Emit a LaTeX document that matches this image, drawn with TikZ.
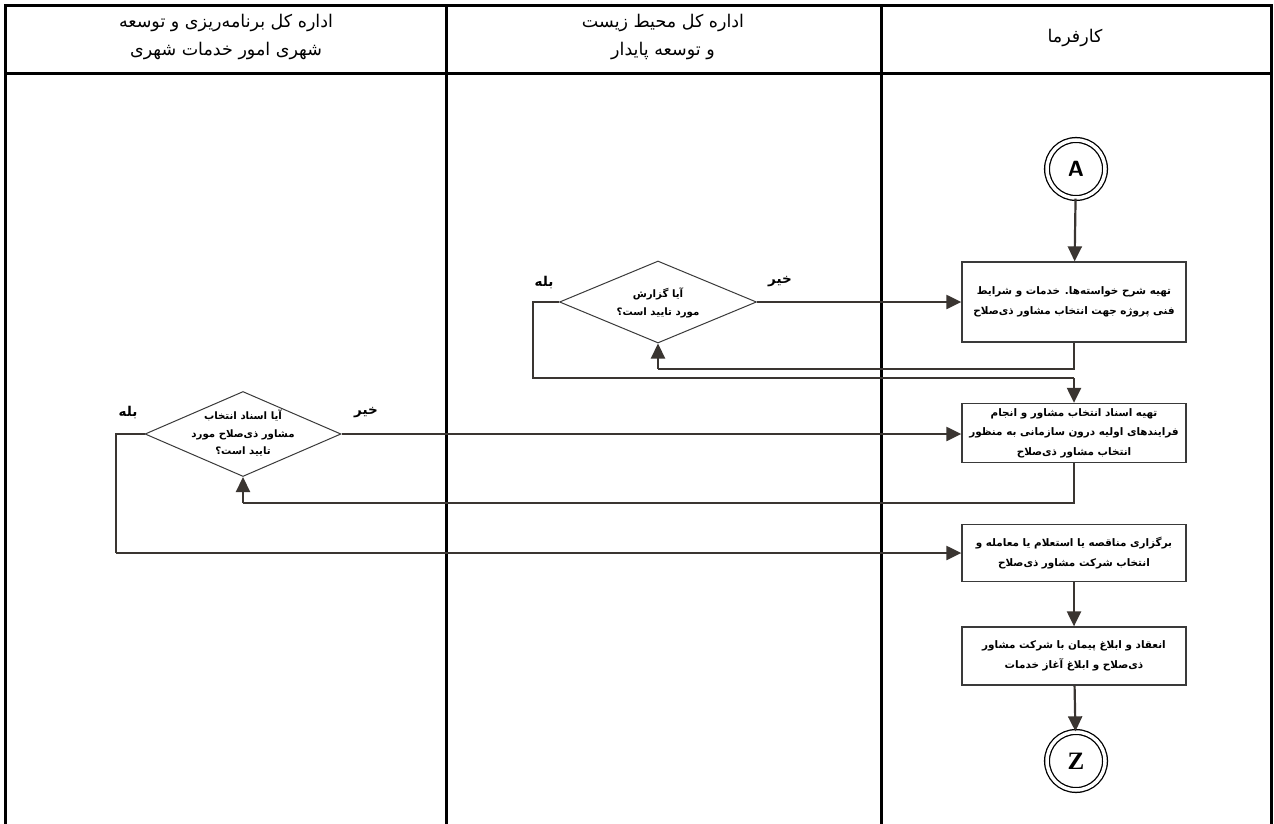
\documentclass[tikz,border=0pt]{standalone}
\usepackage{fontspec}
\TeXXeTstate=1
\setmainfont{Liberation Sans}
\newfontfamily\fafont[Script=Arabic]{DejaVu Sans}
\newfontfamily\zfont{Liberation Serif}
\usetikzlibrary{arrows.meta,shapes.geometric,calc}
\newcommand{\fa}[1]{\beginR #1\endR}
\definecolor{linec}{HTML}{3A3531}
\definecolor{boxc}{HTML}{3A3A3A}
\begin{document}
\begin{tikzpicture}[x=1pt,y=-1pt,
  lane/.style={line width=3pt,draw=black},
  box/.style={draw=boxc,line width=1.3pt,fill=white,minimum width=224pt,inner sep=2pt,align=center,
    font=\fafont\bfseries\fontsize{10.4}{19.5}\selectfont},
  dia/.style={draw=boxc,line width=1pt,diamond,minimum width=197pt,minimum height=82pt,inner sep=0pt,aspect=2.4},
  diatext/.style={align=center,font=\fafont\bfseries\fontsize{10.2}{17.5}\selectfont},
  yn/.style={font=\fafont\bfseries\fontsize{13.5}{15}\selectfont},
  head/.style={align=center,font=\fafont\fontsize{17.5}{28}\selectfont},
  term/.style={circle,draw=black,line width=1.3pt,double,double distance=3.5pt,minimum size=58pt,inner sep=0pt},
  conn/.style={draw=linec,line width=2.2pt},
  arr/.style={conn,-{Triangle[width=14pt,length=15pt]}}]
\useasboundingbox (0,0) rectangle (1274,824);
\fill[white] (0,0) rectangle (1274,824);
% frame and lanes
\draw[lane] (5,824) -- (5,6) -- (1271,6) -- (1271,824);
\draw[lane] (5,74) -- (1271,74);
\draw[lane] (446,6) -- (446,824);
\draw[lane] (881,6) -- (881,824);
% headers
\node[head] (h1) at (226,37) {\fa{اداره کل برنامه‌ریزی و توسعه}\\\fa{شهری امور خدمات شهری}};
\node[head] (h2) at (663,37) {\fa{اداره کل محیط زیست}\\\fa{و توسعه پایدار}};
\node[head] (h3) at (1075,38) {\fa{کارفرما}};
% terminals
\node[term,font=\sffamily\bfseries\fontsize{22}{22}\selectfont] (A) at (1076,169) {A};
\node[term,font=\zfont\bfseries\fontsize{25}{25}\selectfont] (Z) at (1076,761) {Z};
% boxes
\node[box,minimum height=80pt] (b1) at (1074,302) {\fa{تهیه شرح خواسته‌ها. خدمات و شرایط}\\\fa{فنی پروژه جهت انتخاب مشاور ذی‌صلاح}};
\node[box,minimum height=59pt] (b2) at (1074,433) {\fa{تهیه اسناد انتخاب مشاور و انجام}\\\fa{فرایندهای اولیه درون سازمانی به منظور}\\\fa{انتخاب مشاور  ذی‌صلاح}};
\node[box,minimum height=57pt] (b3) at (1074,553) {\fa{برگزاری مناقصه یا استعلام یا معامله و}\\\fa{انتخاب شرکت مشاور ذی‌صلاح}};
\node[box,minimum height=58pt] (b4) at (1074,656) {\fa{انعقاد و ابلاغ پیمان با شرکت مشاور}\\\fa{ذی‌صلاح و ابلاغ آغاز خدمات}};
% diamonds
\node[dia] (d1) at (658,302) {};
\node[diatext] (t1) at (658,303) {\fa{آیا گزارش}\\\fa{مورد تایید است؟}};
\node[dia,minimum width=196pt,minimum height=85pt] (d2) at (243,434) {};
\node[diatext] (t2) at (243,433) {\fa{آیا اسناد انتخاب}\\\fa{مشاور ذی‌صلاح مورد}\\\fa{تایید است؟}};
% yes/no labels
\node[yn] (y1) at (544,283) {\fa{بله}};
\node[yn] (n1) at (780,282) {\fa{خیر}};
\node[yn] (y2) at (128,413) {\fa{بله}};
\node[yn] (n2) at (366,413) {\fa{خیر}};
% routing coordinates
\coordinate (c1) at (1074,369);
\coordinate (c2) at (658,369);
\coordinate (c3) at (533,302);
\coordinate (c4) at (533,378);
\coordinate (c5) at (1074,378);
\coordinate (c6) at (1074,503);
\coordinate (c7) at (243,503);
\coordinate (c8) at (116,434);
\coordinate (c9) at (116,553);
% connectors
\draw[arr] (A) -- (b1);
\draw[arr] (d1.east) -- (d1.east -| b1.west);
\draw[conn] (b1.south) -- (c1) -- (c2);
\draw[arr] (c2) -- (d1.south);
\draw[conn] (d1.west) -- (c3) -- (c4) -- (c5);
\draw[arr] (c5) -- (b2.north);
\draw[arr] (d2.east) -- (d2.east -| b2.west);
\draw[conn] (b2.south) -- (c6) -- (c7);
\draw[arr] (c7) -- (d2.south);
\draw[conn] (d2.west) -- (c8) -- (c9);
\draw[arr] (c9) -- (b3.west);
\draw[arr] (b3) -- (b4);
\draw[arr] (b4) -- (Z);
\end{tikzpicture}
\end{document}
